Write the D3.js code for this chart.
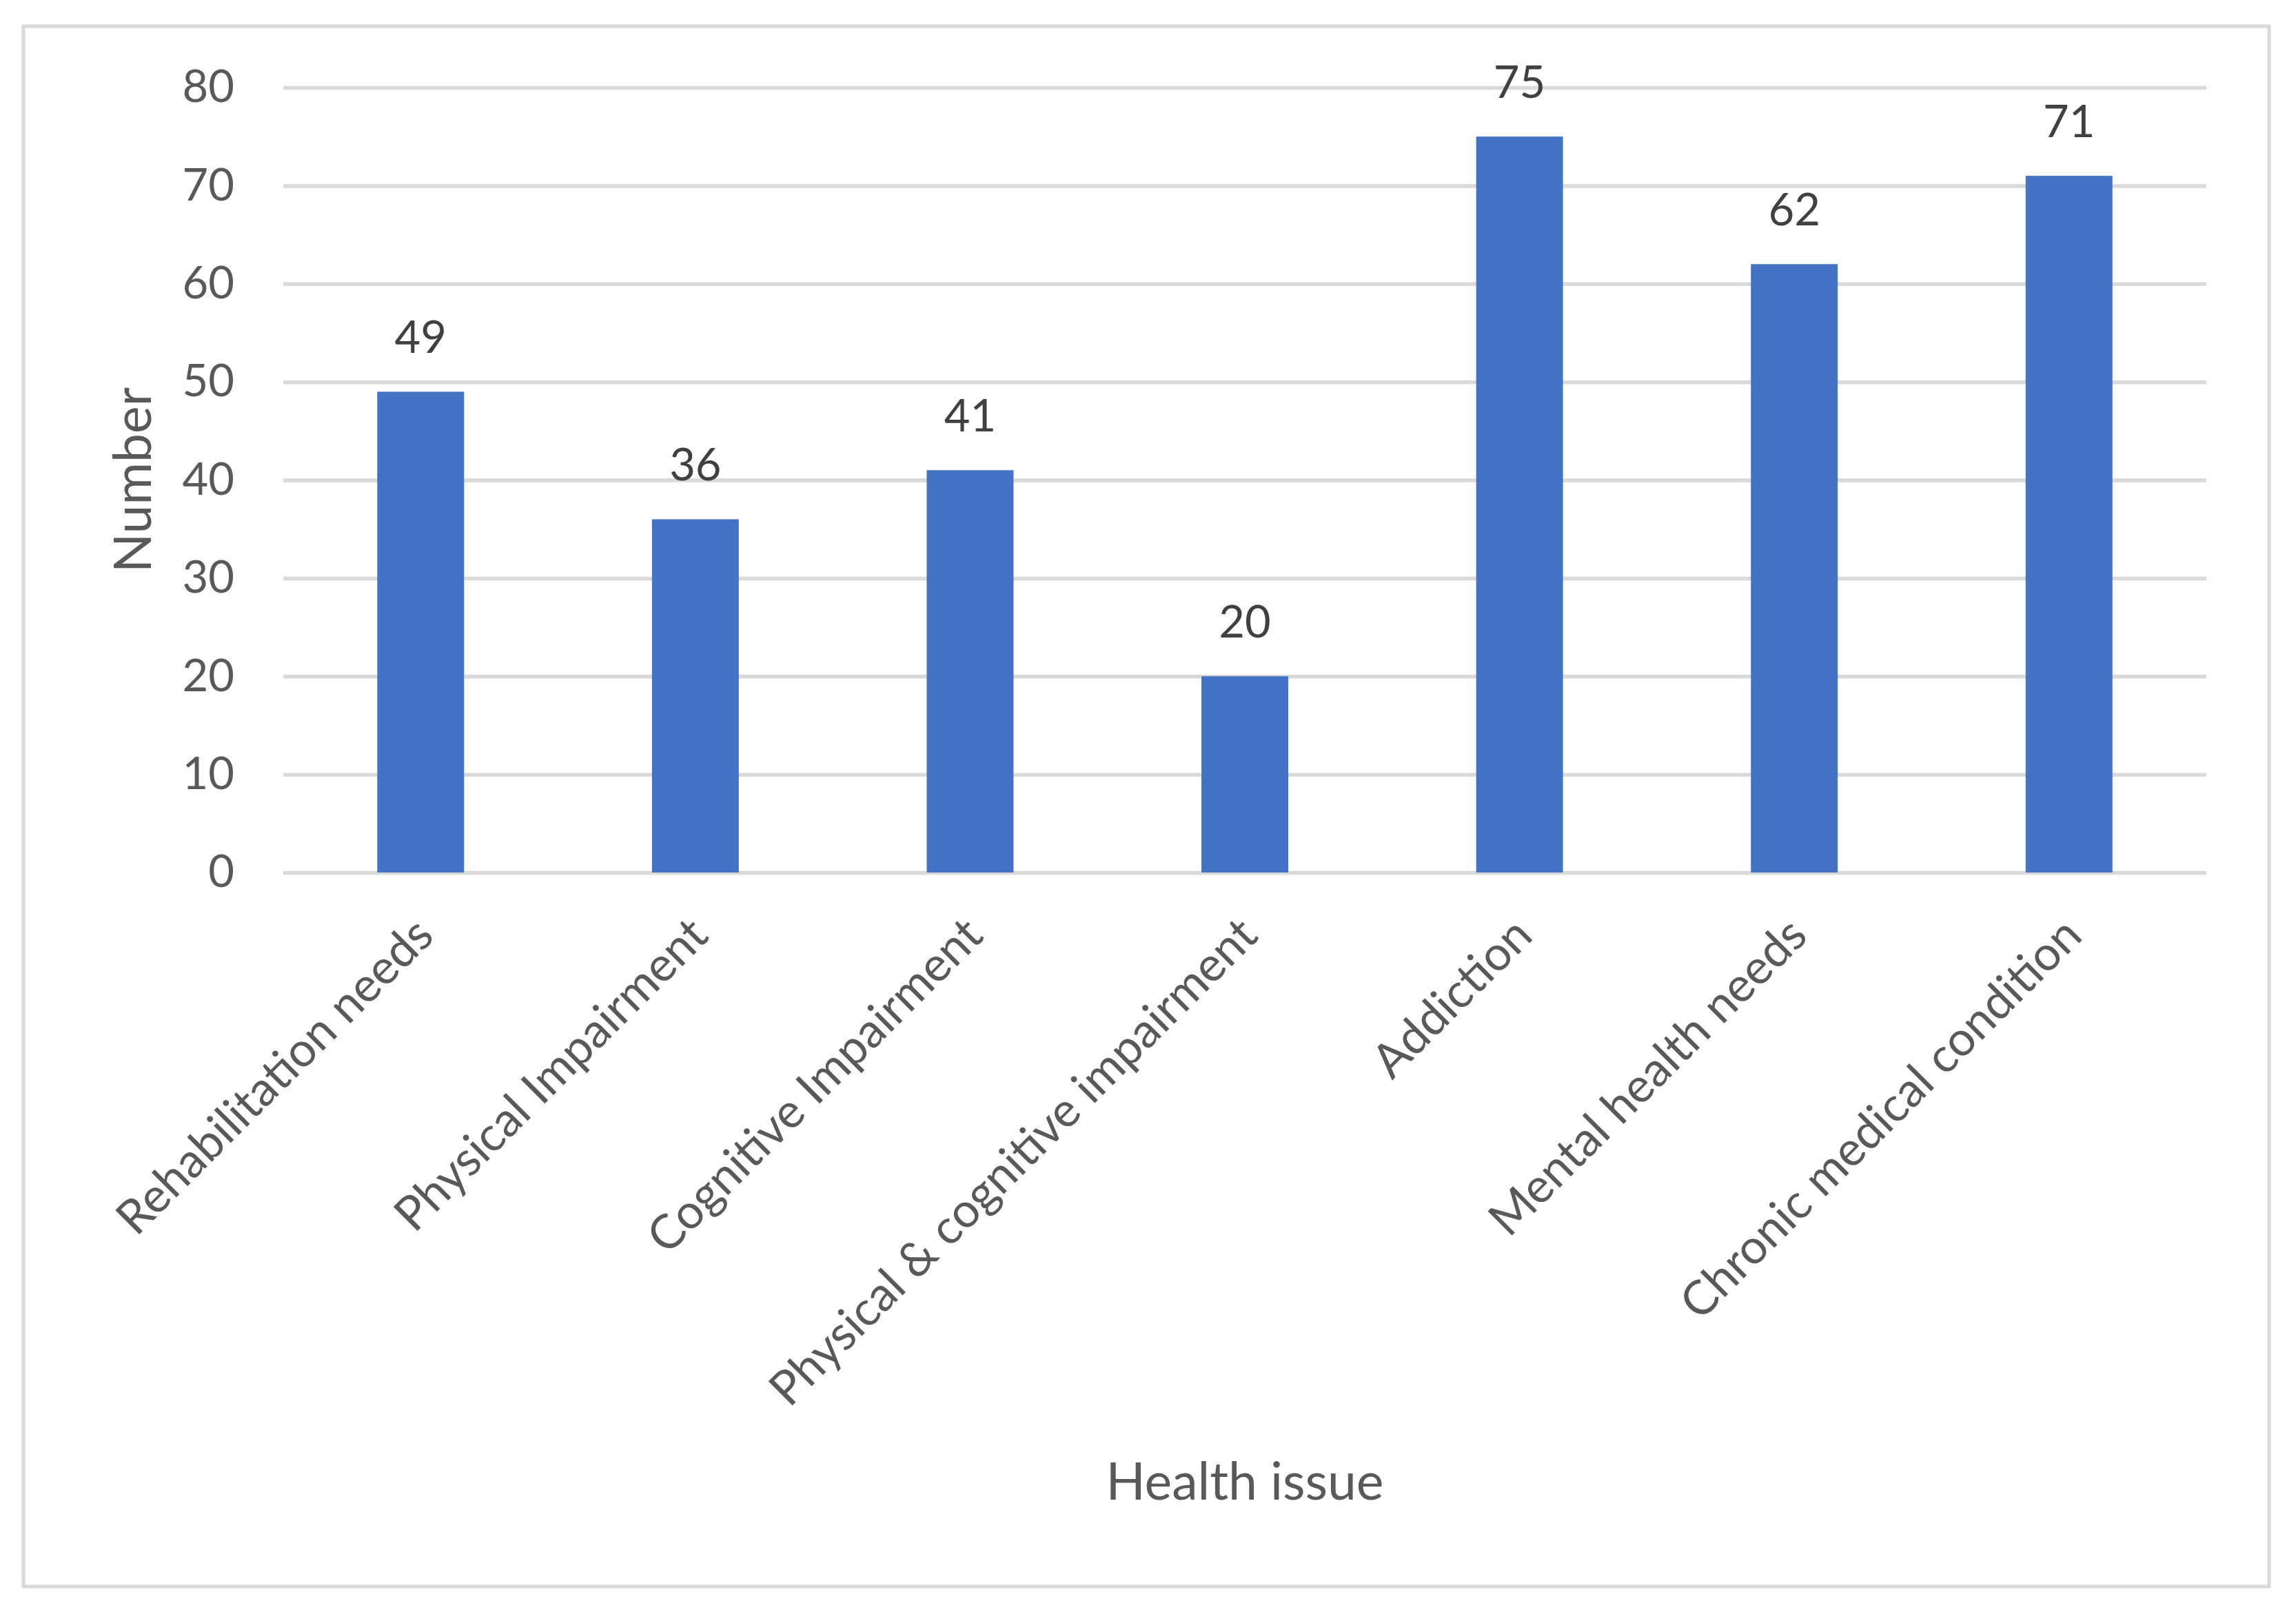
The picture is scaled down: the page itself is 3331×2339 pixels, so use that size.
<!DOCTYPE html>
<html>
<head>
<meta charset="utf-8">
<script src="https://cdn.jsdelivr.net/npm/d3@7"></script>
<style>
  body { margin: 0; background: #fff; }
  text { font-family: Lato, "Open Sans", sans-serif; }
</style>
</head>
<body>
<svg id="mySvg" width="3331" height="2339"></svg>
<script>
// Chart data
const categories = [
  "Rehabilitation needs",
  "Physical Impairment",
  "Cognitive Impairment",
  "Physical & cognitive impairment",
  "Addiction",
  "Mental health needs",
  "Chronic medical condition"
];
const values = [49, 36, 41, 20, 75, 62, 71];
const yTicks = [0, 10, 20, 30, 40, 50, 60, 70, 80];

const svg = d3.select("#mySvg");
svg.selectAll("*").remove();

// Background and outer frame
svg.append("rect")
  .attr("width", 3331)
  .attr("height", 2339)
  .attr("fill", "#fff");

svg.append("rect")
  .attr("x", 34)
  .attr("y", 38)
  .attr("width", 3258)
  .attr("height", 2264)
  .attr("fill", "none")
  .attr("stroke", "#d9d9d9")
  .attr("stroke-width", 5);

// Plot area
const plotLeft = 411, plotRight = 3201, plotTop = 127, plotBottom = 1266;

const x = d3.scaleBand()
  .domain(categories)
  .range([plotLeft, plotRight])
  .paddingInner(0.684)
  .paddingOuter(0.342);

const y = d3.scaleLinear()
  .domain([0, 80])
  .range([plotBottom, plotTop]);

// Gridlines + y tick labels
const yAxis = svg.append("g")
  .attr("transform", `translate(${plotLeft},0)`)
  .call(d3.axisLeft(y)
    .tickValues(yTicks)
    .tickSize(-(plotRight - plotLeft))
    .tickPadding(71));

yAxis.select(".domain").remove();
yAxis.selectAll(".tick line")
  .attr("stroke", "#d9d9d9")
  .attr("stroke-width", 5.5);
yAxis.selectAll(".tick text")
  .attr("fill", "#595959")
  .attr("font-size", 65);

// Bars
svg.append("g")
  .selectAll("rect")
  .data(values)
  .join("rect")
  .attr("x", (d, i) => x(categories[i]))
  .attr("y", d => y(d))
  .attr("width", x.bandwidth())
  .attr("height", d => y(0) - y(d))
  .attr("fill", "#4472c4");

// Data labels
svg.append("g")
  .selectAll("text")
  .data(values)
  .join("text")
  .attr("x", (d, i) => x(categories[i]) + x.bandwidth() / 2)
  .attr("y", d => y(d) - 56)
  .attr("text-anchor", "middle")
  .attr("fill", "#404040")
  .attr("font-size", 65)
  .text(d => d);

// Category labels, rotated
svg.append("g")
  .selectAll("text")
  .data(categories)
  .join("text")
  .attr("transform", d => `translate(${x(d) + x.bandwidth() / 2 + 22},${y(0) + 95}) rotate(-45)`)
  .attr("text-anchor", "end")
  .attr("fill", "#595959")
  .attr("font-size", 69)
  .text(d => d);

// Axis titles
svg.append("text")
  .attr("x", (plotLeft + plotRight) / 2)
  .attr("y", 2176)
  .attr("text-anchor", "middle")
  .attr("fill", "#595959")
  .attr("font-size", 75)
  .text("Health issue");

svg.append("text")
  .attr("transform", `translate(219,${(plotTop + plotBottom) / 2}) rotate(-90)`)
  .attr("text-anchor", "middle")
  .attr("fill", "#595959")
  .attr("font-size", 75)
  .text("Number");
</script>
</body>
</html>
